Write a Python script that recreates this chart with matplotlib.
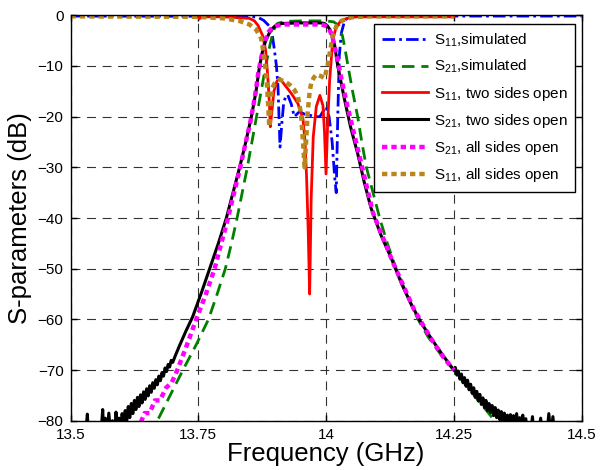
import matplotlib
matplotlib.use("Agg")
import matplotlib.pyplot as plt

plt.rcParams["font.family"] = ["Liberation Sans", "DejaVu Sans"]
plt.rcParams["mathtext.default"] = "regular"

# S11 simulated (blue dash-dot)
blue_f = [13.5, 13.85, 13.867, 13.878, 13.889, 13.895, 13.899, 13.903, 13.906, 13.910,
          13.913, 13.917, 13.921, 13.925, 13.932, 13.938, 13.948, 13.958, 13.968, 13.978,
          13.988, 13.994, 14.0, 14.006, 14.012, 14.017, 14.020, 14.023, 14.026, 14.030,
          14.036, 14.043, 14.06, 14.5]
blue_db = [-0.15, -0.2, -0.4, -1.0, -2.1, -4.0, -6.8, -10, -14, -26,
           -22, -17.4, -16, -15.7, -17.5, -20, -19, -19.5, -19.7, -20,
           -20, -19, -18, -20, -25, -32, -35, -20, -8, -3.5,
           -1.2, -0.4, -0.15, -0.15]

# S21 simulated (green dashed)
green_f = [13.655, 13.670, 13.695, 13.720, 13.746, 13.770, 13.787, 13.803, 13.815, 13.826,
           13.836, 13.846, 13.855, 13.864, 13.873, 13.882, 13.890, 13.897, 13.905, 13.920,
           13.95, 14.0, 14.015, 14.025, 14.032, 14.037, 14.043, 14.052, 14.062, 14.070,
           14.079, 14.092, 14.105, 14.120, 14.137, 14.158, 14.18, 14.20, 14.225, 14.25,
           14.29, 14.33, 14.36]
green_db = [-83, -80, -75, -70, -65, -60, -55, -50, -45, -40,
            -35, -30, -25, -20, -15, -10, -6, -3, -1.6, -1.2,
            -1.1, -1.1, -1.3, -2.0, -4.0, -6.5, -10, -15, -20, -25,
            -30, -35, -40, -45, -50, -55, -60, -63.5, -67, -70,
            -75, -80, -83]

# S11, two sides open (red)
red_f = [13.750, 13.752, 13.755, 13.80, 13.85, 13.860, 13.867, 13.876, 13.882, 13.886,
         13.889, 13.891, 13.894, 13.898, 13.904, 13.909, 13.919, 13.932, 13.945, 13.955,
         13.959, 13.962, 13.965, 13.968, 13.971, 13.975, 13.981, 13.988, 13.994, 13.997,
         14.000, 14.003, 14.007, 14.013, 14.020, 14.030, 14.045, 14.06, 14.10, 14.15,
         14.20, 14.25]
red_db = [-0.2, -0.7, -0.3, -0.3, -0.6, -1.1, -2.0, -4.0, -7.0, -12.0,
          -17.0, -22.0, -19.0, -15.0, -13.0, -12.4, -13.7, -15.4, -17.4, -20.5,
          -25, -32, -42, -55, -36, -24, -18, -15.8, -17.8, -23,
          -31.3, -22, -13, -5, -2.2, -1.0, -0.5, -0.3, -0.3, -0.3,
          -0.3, -0.3]

# S21, two sides open (black, noisy skirts)
black_f = [13.500, 13.520, 13.530, 13.533, 13.535, 13.550, 13.560, 13.563, 13.565, 13.568,
           13.571, 13.575, 13.578, 13.582, 13.586, 13.589, 13.592, 13.595, 13.598, 13.601,
           13.604, 13.607, 13.610, 13.613, 13.616, 13.619, 13.622, 13.625, 13.628, 13.631,
           13.634, 13.637, 13.640, 13.643, 13.646, 13.649, 13.652, 13.655, 13.658, 13.661,
           13.664, 13.667, 13.670, 13.673, 13.676, 13.679, 13.682, 13.685, 13.688, 13.691,
           13.694, 13.697, 13.700, 13.705, 13.712, 13.725, 13.739, 13.757, 13.774, 13.790,
           13.805, 13.818, 13.831, 13.843, 13.854, 13.863, 13.870, 13.876, 13.882, 13.889,
           13.896, 13.903, 13.915, 13.95, 13.99, 13.997, 14.003, 14.008, 14.013, 14.017,
           14.023, 14.030, 14.036, 14.048, 14.062, 14.075, 14.088, 14.108, 14.128, 14.148,
           14.167, 14.187, 14.206, 14.228, 14.250, 14.253, 14.256, 14.259, 14.262, 14.265,
           14.268, 14.271, 14.274, 14.277, 14.280, 14.283, 14.286, 14.289, 14.292, 14.295,
           14.298, 14.301, 14.304, 14.307, 14.310, 14.313, 14.316, 14.319, 14.322, 14.325,
           14.328, 14.331, 14.334, 14.337, 14.340, 14.343, 14.346, 14.349, 14.352, 14.355,
           14.358, 14.361, 14.364, 14.367, 14.370, 14.373, 14.376, 14.379, 14.382, 14.385,
           14.388, 14.391, 14.394, 14.397, 14.400, 14.404, 14.408, 14.412, 14.416, 14.420,
           14.424, 14.428, 14.432, 14.436, 14.440, 14.444, 14.448, 14.470, 14.500]
black_db = [-84, -83, -82, -78.7, -83, -84, -82, -77.8, -82.5, -79.5,
            -83, -78.5, -82, -80, -83, -78.3, -81, -79.5, -81.5, -78.6,
            -80.8, -78.0, -80.0, -77.2, -79.4, -76.6, -78.6, -76.0, -77.8, -75.4,
            -77.2, -74.9, -76.5, -74.3, -75.8, -73.7, -75.1, -73.1, -74.4, -72.5,
            -73.6, -71.9, -72.9, -71.2, -72.1, -70.5, -71.2, -69.6, -70.3, -68.9,
            -69.4, -68.1, -68.5, -67.2, -65.5, -62.5, -59.5, -54.5, -49.5, -44.8,
            -40, -35, -30, -25, -20, -15, -10, -7, -5, -3.5,
            -2.5, -1.9, -1.6, -1.5, -1.5, -1.6, -2.1, -2.9, -4.3, -6,
            -10, -13.5, -16.5, -22, -27.3, -33, -38, -43.5, -48, -53,
            -57.1, -60.8, -63.8, -67, -70, -69.5, -71.0, -70.2, -71.8, -70.8,
            -72.5, -71.5, -73.2, -72.0, -73.9, -72.8, -74.6, -73.5, -75.4, -74.2,
            -76.1, -74.8, -76.8, -75.5, -77.4, -76.0, -78.0, -76.6, -78.4, -77.0,
            -79.0, -77.4, -79.4, -77.9, -79.8, -78.2, -80.3, -78.5, -80.6, -78.9,
            -81, -78.8, -81.5, -79.0, -82, -78.6, -82, -79.4, -82.5, -78.9,
            -83, -79.6, -83, -80.5, -83, -79.2, -84, -80.8, -83, -79.5,
            -84, -80.5, -83, -78.6, -83, -79.2, -84, -84, -84]

# S21, all sides open (magenta dotted)
pink_f = [13.615, 13.625, 13.635, 13.645, 13.655, 13.665, 13.675, 13.687, 13.698, 13.709,
          13.728, 13.746, 13.765, 13.782, 13.795, 13.807, 13.819, 13.831, 13.842, 13.852,
          13.861, 13.868, 13.875, 13.881, 13.888, 13.895, 13.905, 13.92, 13.95, 13.99,
          13.998, 14.005, 14.012, 14.020, 14.030, 14.042, 14.054, 14.066, 14.079, 14.092,
          14.112, 14.132, 14.152, 14.172, 14.192, 14.21, 14.23, 14.25]
pink_db = [-82, -80.5, -81, -78.5, -78.5, -76, -76, -73.5, -72.5, -70,
           -65, -60, -55, -50, -45, -40.5, -35.5, -30.5, -25.5, -21,
           -16, -11, -7.5, -5, -3.2, -2.4, -2.0, -1.8, -1.8, -1.8,
           -2.0, -2.5, -4, -7.5, -12.5, -18, -23, -28, -33.5, -39,
           -44, -49, -53.5, -58, -61.5, -64.5, -67.5, -70]

# S11, all sides open (brown dotted)
brown_f = [13.5, 13.75, 13.80, 13.83, 13.85, 13.863, 13.873, 13.880, 13.884, 13.887,
           13.889, 13.891, 13.894, 13.899, 13.909, 13.918, 13.929, 13.938, 13.945, 13.951,
           13.955, 13.958, 13.961, 13.964, 13.968, 13.971, 13.976, 13.981, 13.990, 13.997,
           14.003, 14.008, 14.013, 14.020, 14.030, 14.05, 14.08, 14.25]
brown_db = [-0.2, -0.3, -0.6, -1.1, -1.8, -2.8, -4.5, -8.8, -13, -18,
            -22, -19, -14.5, -13.5, -12.7, -13, -13.7, -14.7, -16, -19.4,
            -25, -30, -25, -19.4, -15, -13.4, -12.3, -11.7, -12, -12.4,
            -10, -7, -4.1, -2.2, -1.1, -0.4, -0.2, -0.2]

labels = [r"S$_{11}$,simulated", r"S$_{21}$,simulated", r"S$_{11}$, two sides open",
          r"S$_{21}$, two sides open", r"S$_{21}$, all sides open", r"S$_{11}$, all sides open"]

xticks = [13.5, 13.75, 14, 14.25, 14.5]
xticklabels = ["13.5", "13.75", "14", "14.25", "14.5"]
yticks = list(range(-80, 1, 10))

fig = plt.figure(figsize=(6.12, 4.70), dpi=100)
ax = fig.add_axes([0.1152, 0.1049, 0.8350, 0.8625])

ax.plot(blue_f, blue_db, color="#0000ff", lw=2, ls=(0, (4.5, 1.5, 1, 1.5)), label=labels[0])
ax.plot(green_f, green_db, color="#007f00", lw=2, ls=(0, (4.5, 2.5)), label=labels[1])
ax.plot(red_f, red_db, color="#ff0000", lw=2, label=labels[2])
ax.plot(black_f, black_db, color="black", lw=2.2, label=labels[3])
ax.plot(pink_f, pink_db, color="#ff00ff", lw=3.2, ls=(0, (1.2, 0.9)), label=labels[4])
ax.plot(brown_f, brown_db, color="#b8861a", lw=3.2, ls=(0, (1.2, 0.9)), label=labels[5])

ax.set_xlim(13.5, 14.5)
ax.set_ylim(-80, 0)
ax.set_xticks(xticks)
ax.set_xticklabels(xticklabels)
ax.set_yticks(yticks)
ax.tick_params(direction="in", length=4, width=1, top=True, right=True, labelsize=11, pad=5)
ax.grid(True, color="#333333", lw=0.8, ls=(0, (8, 6)))
for s in ax.spines.values():
    s.set_linewidth(1)

ax.set_xlabel("Frequency (GHz)", fontsize=18.5, labelpad=0)
ax.set_ylabel("S-parameters (dB)", fontsize=18.5, labelpad=4)

leg = ax.legend(loc="upper right", bbox_to_anchor=(0.988, 0.979), borderaxespad=0,
                fontsize=11, handlelength=3.0, handletextpad=0.4, labelspacing=0.6,
                fancybox=False, framealpha=1, edgecolor="black", borderpad=0.5)
leg.get_frame().set_linewidth(1)

fig.savefig("out.png", dpi=100, facecolor="white")
